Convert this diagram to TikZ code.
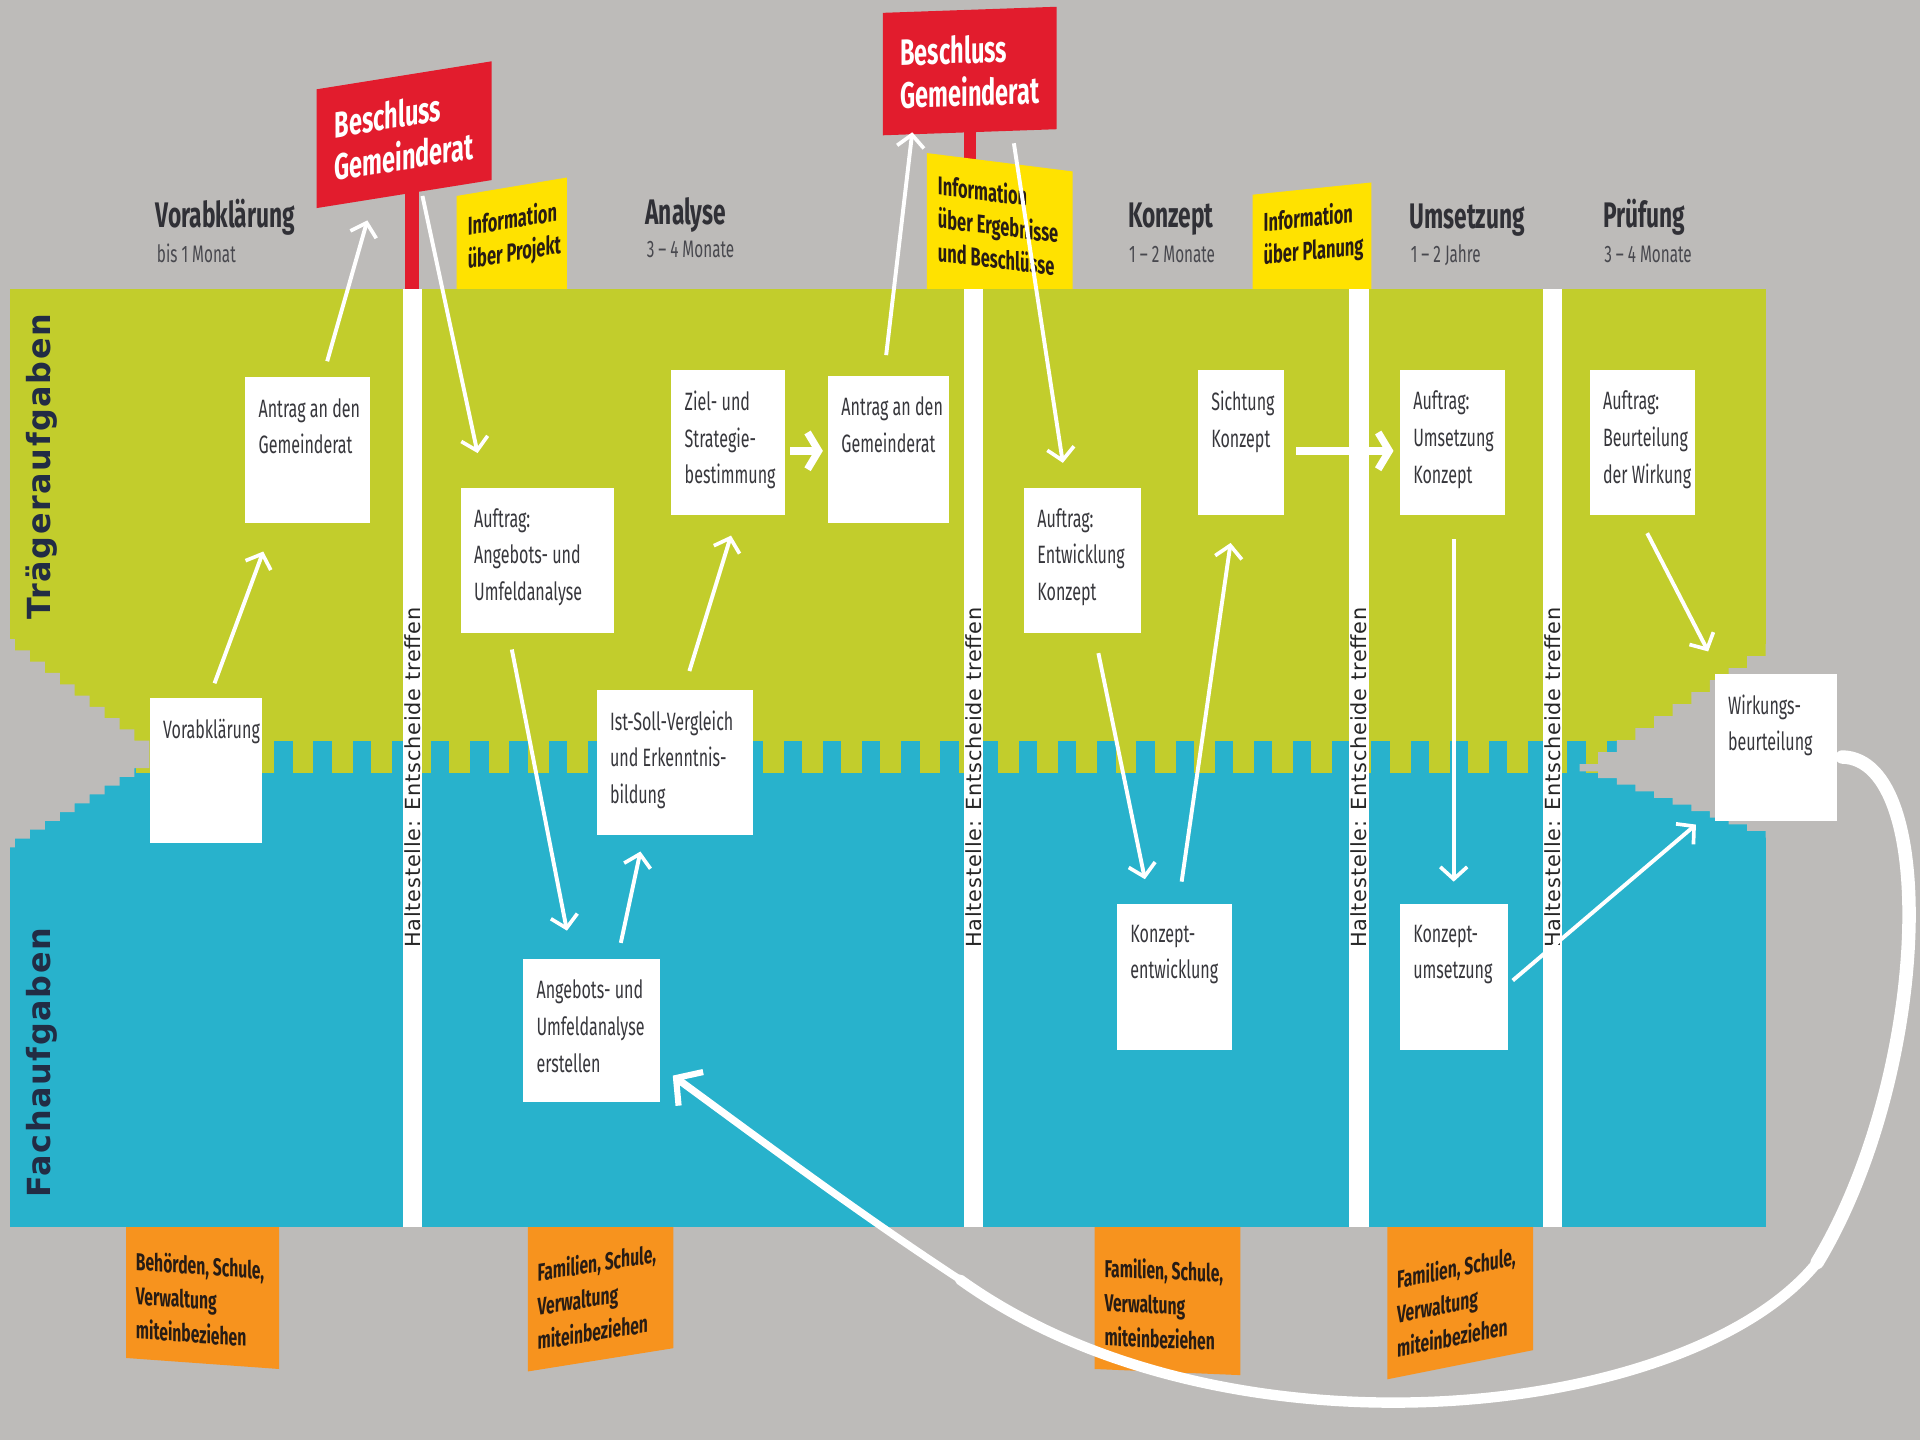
\documentclass[tikz,border=0pt]{standalone}
\usepackage{fontspec}
\setmainfont{Fira Sans}[FakeStretch=0.64]
\newfontfamily\cond{Fira Sans}[FakeStretch=0.64]
\newfontfamily\haltfont{DejaVu Sans}[LetterSpace=4]
\newfontfamily\lanefont{DejaVu Sans}[LetterSpace=5]
\usetikzlibrary{calc,arrows.meta}
\definecolor{bgc}{RGB}{189,187,185}
\definecolor{greenc}{RGB}{194,205,44}
\definecolor{bluec}{RGB}{40,178,204}
\definecolor{redc}{RGB}{226,28,45}
\definecolor{yellowc}{RGB}{255,226,0}
\definecolor{orangec}{RGB}{247,147,30}
\definecolor{boxtxt}{RGB}{55,55,60}
\definecolor{headc}{RGB}{48,48,54}
\definecolor{subc}{RGB}{72,72,78}
\definecolor{lanec}{RGB}{34,44,68}
\definecolor{notetxt}{RGB}{40,28,20}
\newcommand{\tbox}[6]{\node[taskbox,anchor=north west] (#1) at (#2,#3) {\parbox[t][\dimexpr #5pt-34pt\relax][t]{#4pt}{\leftskip=11pt\rightskip=0pt plus 1fil\relax\hyphenpenalty=10000 #6}};}
\newcommand{\ytext}[4]{\parbox[c][#2][t]{#1}{\vspace*{#3}\raggedright\hyphenpenalty=10000 #4}}
\newcommand{\otext}[4]{\parbox[c][#2][b]{#1}{\raggedright\hyphenpenalty=10000 #4\par\vspace*{#3}}}
\begin{document}
\begin{tikzpicture}[x=1pt,y=-1pt,
  taskbox/.style={fill=white, inner xsep=0pt, inner ysep=17pt, font=\cond\fontsize{20.5}{30}\selectfont, text=boxtxt},
  ybox/.style={fill=yellowc, inner xsep=9pt, inner ysep=0pt, font=\cond\bfseries\fontsize{21}{27}\selectfont, text=notetxt},
  obox/.style={fill=orangec, inner xsep=8pt, inner ysep=0pt, font=\cond\bfseries\fontsize{20}{28}\selectfont, text=notetxt},
  sign/.style={fill=redc, text=white, align=left, inner xsep=11pt, font=\cond\bfseries\fontsize{30}{35}\selectfont},
  head/.style={font=\cond\bfseries\fontsize{29}{29}\selectfont, text=headc, inner sep=0pt, anchor=base west},
  sub/.style={font=\cond\fontsize{19.5}{19.5}\selectfont, text=subc, inner sep=0pt, anchor=base west},
  halt/.style={rotate=90, font=\haltfont\fontsize{17}{17}\selectfont, text=black!85, inner sep=0pt},
  lane/.style={rotate=90, font=\lanefont\bfseries\fontsize{26}{26}\selectfont, text=lanec, inner sep=0pt},
  arr/.style={draw=white, line width=3.2pt, -{Straight Barb[length=10pt,width=22pt,line width=3pt]}},
  fatarr/.style={draw=white, line width=7pt, -{Straight Barb[length=9pt,width=30pt,line width=6pt]}},
  bigarr/.style={draw=white, line width=6pt, -{Straight Barb[length=15pt,width=34pt,line width=5pt]}}
]
\fill[bgc] (0,0) rectangle (1568,1176);
\useasboundingbox (0,0) rectangle (1568,1176);

% poles
\fill[redc] (331,150) rectangle (342,240);
\fill[redc] (787,100) rectangle (797,140);

% yellow notes (bottoms hidden by band)
\node[ybox, yslant=0.167] (Y1) at (418,207.5) {\ytext{72pt}{110pt}{17pt}{\mbox{Information}\\\mbox{über Projekt}}};
\node[ybox, yslant=-0.126] (Y2) at (816.5,197.5) {\ytext{101pt}{130pt}{16pt}{\mbox{Information}\\\mbox{über Ergebnisse}\\\mbox{und Beschlüsse}}};
\node[ybox, yslant=0.103] (Y3) at (1071.5,209) {\ytext{79pt}{110pt}{14pt}{\mbox{Information}\\\mbox{über Planung}}};

% orange notes (tops hidden by band)
\node[obox, yslant=-0.072] (O1) at (165.5,1043.5) {\otext{109pt}{140pt}{16pt}{\mbox{Behörden, Schule,}\\Verwaltung\\miteinbeziehen}};
\node[obox, yslant=0.16] (O2) at (490.5,1040.5) {\otext{103pt}{140pt}{16pt}{\mbox{Familien, Schule,}\\Verwaltung\\miteinbeziehen}};
\node[obox, yslant=-0.042] (O3) at (953.5,1050.5) {\otext{103pt}{140pt}{19pt}{\mbox{Familien, Schule,}\\Verwaltung\\miteinbeziehen}};
\node[obox, yslant=0.2] (O4) at (1192.5,1044.5) {\otext{103pt}{140pt}{16pt}{\mbox{Familien, Schule,}\\Verwaltung\\miteinbeziehen}};

% bands
\fill[greenc] (8,236) rectangle (1442,632);
\fill[bluec] (8,631) rectangle (1442,1002);
\foreach \x in {96,128,...,1432} \fill[bluec] (\x,605) rectangle ++(15,27);

% torn edges
\fill[bgc] (0,522) \foreach \i in {1,...,10}{ -- ++(12.2,0) -- ++(0,9.2)} -- ++(0,6)
  \foreach \i in {1,...,10}{ -- ++(0,7.2) -- ++(-12.2,0)} -- cycle;
\fill[bgc] (1570,526) -- (1442,526) \foreach \i in {1,...,10}{ -- ++(0,9.8) -- ++(-15.2,0)} -- ++(0,6)
  \foreach \i in {1,...,10}{ -- ++(15.2,0) -- ++(0,5.4)} -- (1570,690) -- cycle;

% stop bars
\foreach \x/\n in {337/H1,795/H2,1110/H3,1268/H4}{
  \fill[white] (\x-8,236) rectangle (\x+8,1002);
  \node[halt] (\n) at (\x,635) {Haltestelle: Entscheide treffen};
}

% lane labels
\node[lane] (LT) at (34,381) {Trägeraufgaben};
\node[lane] (LF) at (34,868) {Fachaufgaben};

% red signs
\node[sign, yslant=0.16, minimum width=143pt, minimum height=97pt] (B1) at (330,110) {Beschluss\\Gemeinderat};
\node[sign, yslant=0.035, minimum width=142pt, minimum height=100pt] (B2) at (792,58) {Beschluss\\Gemeinderat};

% phase headings
\node[head] (hV) at (127,186) {Vorabklärung};
\node[sub] (sV) at (128,214) {bis 1 Monat};
\node[head] (hA) at (527,183) {Analyse};
\node[sub] (sA) at (528,210) {3\,–\,4 Monate};
\node[head] (hK) at (921,186) {Konzept};
\node[sub] (sK) at (922,214) {1\,–\,2 Monate};
\node[head] (hU) at (1151,187) {Umsetzung};
\node[sub] (sU) at (1152,214) {1\,–\,2 Jahre};
\node[head] (hP) at (1309,186) {Prüfung};
\node[sub] (sP) at (1310,214) {3\,–\,4 Monate};

% task boxes
\tbox{A1}{200}{308}{102}{119}{Antrag~an~den\\Gemeinderat}
\tbox{V}{122}{570}{92}{118}{Vorabklärung}
\tbox{AUA}{376}{398}{125}{119}{Auftrag:\\Angebots-~und\\Umfeldanalyse}
\tbox{ZS}{548}{302}{93}{118}{Ziel-~und\\Strategie-\\bestimmung}
\tbox{A2}{676}{307}{99}{120}{Antrag~an~den\\Gemeinderat}
\tbox{IS}{487}{563}{128}{119}{Ist-Soll-Vergleich\\und~Erkenntnis-\\bildung}
\tbox{AU}{427}{783}{112}{117}{Angebots-~und\\Umfeldanalyse\\erstellen}
\tbox{AEK}{836}{398}{96}{119}{Auftrag:\\Entwicklung\\Konzept}
\tbox{SK}{978}{302}{70}{118}{Sichtung\\Konzept}
\tbox{KE}{912}{738}{94}{119}{Konzept-\\entwicklung}
\tbox{AUK}{1143}{302}{86}{118}{Auftrag:\\Umsetzung\\Konzept}
\tbox{KU}{1143}{738}{88}{119}{Konzept-\\umsetzung}
\tbox{ABW}{1298}{302}{86}{118}{Auftrag:\\Beurteilung\\der~Wirkung}
\tbox{WB}{1400}{550}{100}{120}{Wirkungs-\\beurteilung}

% arrows
\draw[arr] ($(V.north)+(7,-12)$) -- ($(A1.south west)+(15,23)$);
\draw[arr] ($(A1.north)+(16,-13)$) -- ($(B1.center)+(-30,70)$);
\draw[arr] ($(B1.center)+(15,50)$) -- ($(AUA.north west)+(14,-28)$);
\draw[arr] ($(AUA.south west)+(42,13)$) -- ($(AU.north west)+(36,-23)$);
\draw[arr] ($(AU.north west)+(80,-13)$) -- ($(IS.south west)+(36,13)$);
\draw[arr] ($(IS.north west)+(76,-15)$) -- ($(ZS.south west)+(49,17)$);
\draw[fatarr] ($(ZS.east)+(4,7)$) -- ($(A2.west)+(-4,1)$);
\draw[arr] ($(A2.north)+(-2,-17)$) -- ($(B2.center)+(-47,50)$);
\draw[arr] ($(B2.center)+(36,59)$) -- ($(AEK.north west)+(32,-20)$);
\draw[arr] ($(AEK.south west)+(61,16)$) -- ($(KE.north west)+(23,-20)$);
\draw[arr] ($(KE.north west)+(53,-18)$) -- ($(SK.south west)+(27,23)$);
\draw[fatarr] ($(SK.east)+(10,7)$) -- ($(AUK.west)+(-5,7)$);
\draw[arr] ($(AUK.south)+(1,20)$) -- ($(KU.north)+(0,-18)$);
\draw[arr] ($(KU.east)+(4,3)$) -- ($(WB.south west)+(-15,3)$);
\draw[arr] ($(ABW.south)+(4,15)$) -- ($(WB.north west)+(-5,-18)$);

% feedback loop (tapering)
\draw[white, line width=11pt, line cap=round] ($(WB.east)+(4,8)$) .. controls (1585,620) and (1575,880) .. (1484,1031);
\draw[white, line width=8.5pt, line cap=round] (1484,1031) .. controls (1380,1160) and (1000,1200) .. (784,1045);
\draw[bigarr] ($(WB.east)+(4,8)$) .. controls (1585,620) and (1575,880) .. (1484,1031)
  .. controls (1380,1160) and (1000,1200) .. (784,1045)
  .. controls (700,990) and (620,930) .. ($(AU.south east)+(10,-22)$);
\end{tikzpicture}
\end{document}
